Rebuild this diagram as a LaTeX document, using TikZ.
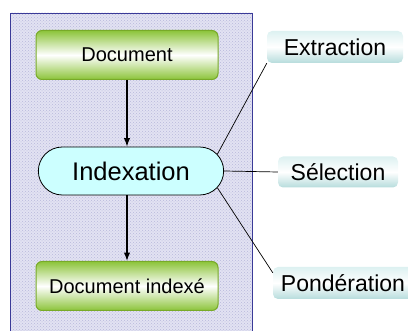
\documentclass[tikz,border=0pt]{standalone}
\usepackage{fontspec}
\setmainfont{Liberation Sans}
\usetikzlibrary{arrows.meta}
\usetikzlibrary{shapes.misc, patterns}
\definecolor{panelfill}{HTML}{E2E2F2}
\definecolor{paneldots}{HTML}{B8B8DC}
\definecolor{panelline}{HTML}{3A3A98}
\definecolor{greentop}{HTML}{8CC43A}
\definecolor{greenline}{HTML}{78AA28}
\definecolor{idxfill}{HTML}{CCFFFF}
\definecolor{tealtop}{HTML}{DDF1F1}
\definecolor{tealbot}{HTML}{B6DCDC}
\begin{document}
\begin{tikzpicture}[>=Latex,x=1pt,y=-1pt,
  greenbox/.style={draw=greenline,line width=1pt,rounded corners=6pt,top color=greentop,bottom color=greentop,middle color=white,
    minimum width=182pt,minimum height=49pt,font=\fontsize{20}{24}\selectfont},
  tealbox/.style={rounded corners=5pt,top color=tealtop,bottom color=tealbot,middle color=white,
    minimum height=32pt,font=\fontsize{23}{27}\selectfont,inner sep=0pt}]
%%
\useasboundingbox (0,0) rectangle (408,331);
\fill[panelfill] (10,13) rectangle (252,333);
\fill[pattern=crosshatch dots,pattern color=paneldots] (10,13) rectangle (252,333);
\draw[panelline,line width=0.8pt] (10,333) -- (10,13) -- (252,13) -- (252,333);
%%
\node (node_doc) at (127,55) [greenbox] {Document};
  \node (node_idx) at (131,171) [rounded rectangle,draw,line width=0.8pt,fill=idxfill,minimum width=192pt,minimum height=48pt,font=\fontsize{25.5}{30}\selectfont] {Indexation};
  \node (node_docidx) at (127,286) [greenbox] {Document indexé};
  \node (node_ext) at (335,47) [tealbox,minimum width=136pt] {Extraction};
  \node (node_sel) at (338,172) [tealbox,minimum width=120pt,minimum height=31pt] {Sélection};
  \node (node_pond) at (343,283) [tealbox,minimum width=140pt] {Pondération};
  \draw [black,line width=1.2pt,->] (node_doc.south) -- (node_doc.south |- node_idx.north);
  \draw [black,line width=1.2pt,->] (node_doc.south |- node_idx.south) -- (node_docidx.north);
  \draw [black,line width=0.7pt] (node_idx.11) -- (node_ext.south west);
  \draw [black,line width=0.7pt] (node_idx.east) -- (node_sel.west);
  \draw [black,line width=0.7pt] (node_idx.-11) -- ([yshift=-6pt]node_pond.north west);
%
\end{tikzpicture}
\end{document}
